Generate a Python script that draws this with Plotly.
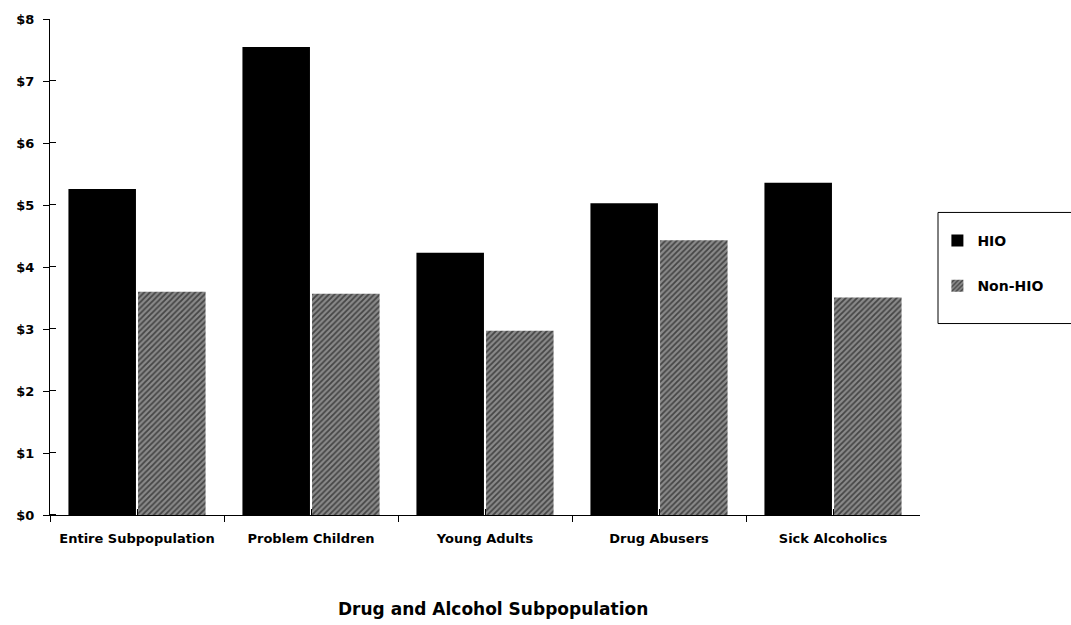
import plotly.graph_objects as go

# Average cost per member, by subpopulation and plan type
categories = ["Entire Subpopulation", "Problem Children", "Young Adults",
              "Drug Abusers", "Sick Alcoholics"]
hio_values = [5.26, 7.55, 4.23, 5.03, 5.36]
non_hio_values = [3.60, 3.57, 2.97, 4.43, 3.51]
y_tick_values = [0, 1, 2, 3, 4, 5, 6, 7, 8]
y_tick_labels = ["$0", "$1", "$2", "$3", "$4", "$5", "$6", "$7", "$8"]

FONT = "DejaVu Sans, Arial, sans-serif"

fig = go.Figure()
fig.add_trace(go.Bar(
    x=categories, y=hio_values, name="<b>HIO</b>",
    legendgroup="a",
    marker=dict(color="black", line=dict(width=0)),
))
fig.add_trace(go.Bar(
    x=categories, y=non_hio_values, name="<b>Non-HIO</b>",
    legendgroup="b",
    marker=dict(color="white", line=dict(width=0),
                pattern=dict(shape="/", fgcolor="black", bgcolor="#8a8a8a",
                             size=4, solidity=0.45)),
))

# inner half of the crossing tick marks: minor ticks nudged off the major ones
y_inner = [v + 0.002 for v in y_tick_values]
x_inner = [i - 0.5 + 0.002 for i in range(len(categories) + 1)]

fig.update_layout(
    width=1071, height=625,
    margin=dict(l=50, r=151, t=15, b=110),
    paper_bgcolor="white", plot_bgcolor="white",
    barmode="group", bargap=0.2, bargroupgap=0.03,
    font=dict(family=FONT, size=12, color="black"),
    showlegend=True,
    legend=dict(
        x=1.02, y=0.585, xanchor="left", yanchor="top",
        borderwidth=0, bgcolor="rgba(0,0,0,0)",
        font=dict(family=FONT, size=14, color="black"),
        traceorder="grouped", tracegroupgap=24,
    ),
    xaxis=dict(
        type="category", tickson="boundaries",
        showline=True, linecolor="black", linewidth=1,
        ticks="outside", ticklen=6, tickcolor="black",
        tickfont=dict(family=FONT, size=13, color="black"),
        tickvals=categories,
        ticktext=["<b>%s</b>" % c for c in categories],
        ticklabelstandoff=11,
        showgrid=False,
        minor=dict(tickvals=x_inner, ticks="inside", ticklen=6,
                   tickcolor="black", showgrid=False),
    ),
    yaxis=dict(
        range=[0, 8], tickvals=y_tick_values,
        ticktext=["<b>%s</b>" % t for t in y_tick_labels],
        showline=True, linecolor="black", linewidth=1,
        ticks="outside", ticklen=6, tickcolor="black",
        tickfont=dict(family=FONT, size=13, color="black"),
        ticklabelstandoff=6,
        showgrid=False, zeroline=False,
        minor=dict(tickvals=y_inner, ticks="inside", ticklen=6,
                   tickcolor="black", showgrid=False),
    ),
    shapes=[dict(
        type="rect", xref="paper", yref="paper",
        x0=1.0207, x1=1.25, y0=0.386, y1=0.61,
        line=dict(color="black", width=1), fillcolor="rgba(0,0,0,0)",
        layer="above",
    )],
    annotations=[dict(
        text="<b>Drug and Alcohol Subpopulation</b>",
        xref="paper", yref="paper", x=0.509, y=-0.19,
        xanchor="center", yanchor="middle", showarrow=False,
        font=dict(family=FONT, size=17, color="black"),
    )],
)

fig.write_html("out.html")
